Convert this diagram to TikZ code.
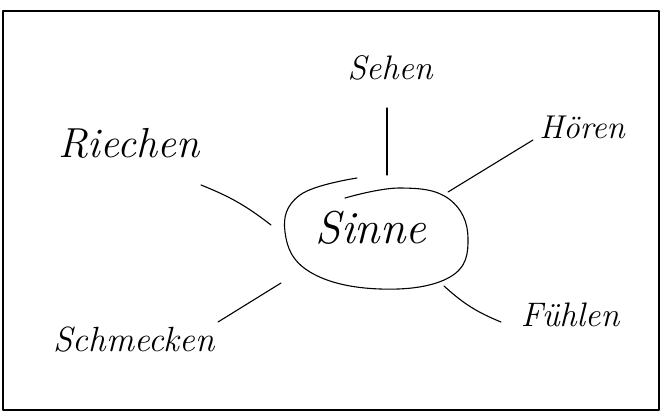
\documentclass[tikz,border=0pt]{standalone}
\usepackage{fontspec}
\begin{document}
\begin{tikzpicture}[x=1pt,y=-1pt,line cap=round,line join=round,
  hand/.style={draw=black,line width=1.1pt},
  word/.style={inner sep=0pt,font=\itshape}]
\useasboundingbox (0,0) rectangle (663,412);
\draw[line width=1.6pt] (3,11) rectangle (659,410);
% labels
\node[word,font=\itshape\fontsize{34}{40}\selectfont] (sehen) at (390,68) {Sehen};
\node[word,font=\itshape\fontsize{33}{38}\selectfont] (hoeren) at (582,127) {Hören};
\node[word,font=\itshape\fontsize{42}{48}\selectfont] (riechen) at (129,143) {Riechen};
\node[word,font=\itshape\fontsize{35}{42}\selectfont] (schmecken) at (134,340) {Schmecken};
\node[word,font=\itshape\fontsize{34}{40}\selectfont] (fuehlen) at (570,315) {Fühlen};
\node[word,font=\itshape\fontsize{46}{52}\selectfont] (sinne) at (371,228) {Sinne};
% hand-drawn ellipse around Sinne
\draw[hand] plot[smooth,tension=0.7] coordinates {(345,198) (400,188) (449,199) (468,238) (450,277) (380,289) (310,272) (285,232) (300,195) (357,178)};
% connector end points
\coordinate (sehenA) at (387,108);
\coordinate (sehenB) at (387,175);
\coordinate (hoerenA) at (533,140);
\coordinate (hoerenB) at (448,192);
\coordinate (riechenA) at (201,185);
\coordinate (riechenB) at (271,225);
\coordinate (schmeckenA) at (281,283);
\coordinate (schmeckenB) at (218,322);
\coordinate (fuehlenA) at (444,286);
\coordinate (fuehlenB) at (501,322);
\draw[hand] (sehenA) -- (sehenB);
\draw[hand] (hoerenA) -- (hoerenB);
\draw[hand] (riechenA) to[bend left=8] (riechenB);
\draw[hand] (schmeckenA) -- (schmeckenB);
\draw[hand] (fuehlenA) to[bend right=10] (fuehlenB);
\end{tikzpicture}
\end{document}
